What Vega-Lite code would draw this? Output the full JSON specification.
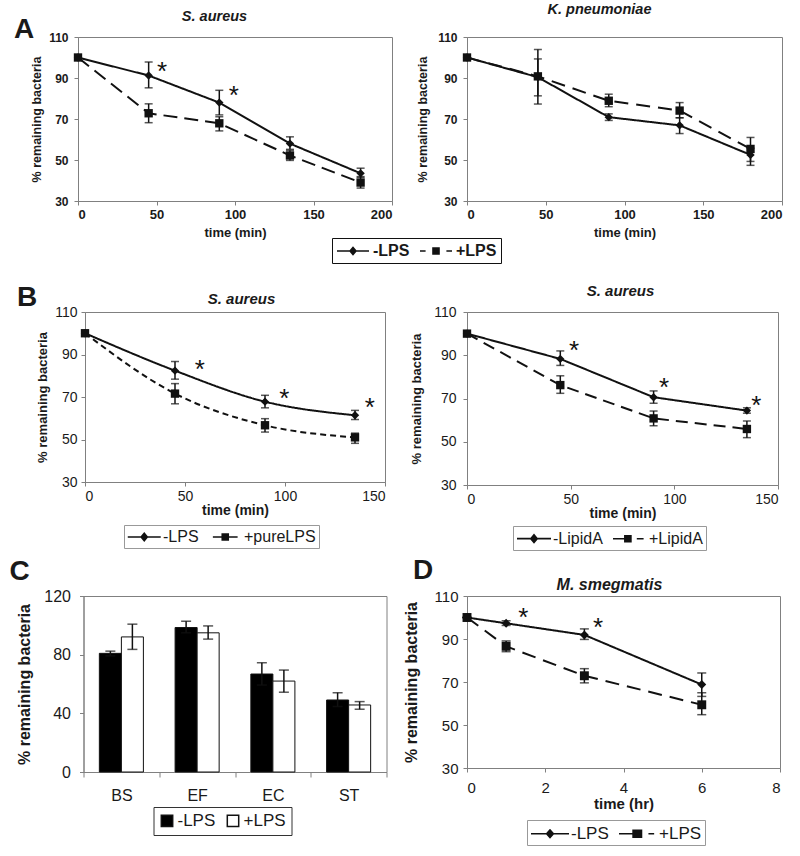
{
"$schema": "https://vega.github.io/schema/vega-lite/v6.json",
"background": "white",
"padding": {"left": 9, "top": 1, "right": 5, "bottom": 5},
"config": {
  "font": "Liberation Sans",
  "view": {"stroke": "#808080", "strokeWidth": 1},
  "axis": {"grid": false, "domainColor": "#808080", "tickColor": "#808080", "tickSize": 4, "labelColor": "#1a1a1a", "titleColor": "#1a1a1a", "titleFontWeight": "bold"},
  "title": {"fontStyle": "italic", "fontWeight": "bold", "color": "#1a1a1a"},
  "legend": {"titleColor": "#1a1a1a", "labelColor": "#1a1a1a"}
},
"columns": 2,
"spacing": {"row": 111, "column": 75},
"bounds": "flush",
"center": true,
"resolve": {"scale": {"shape": "independent", "strokeDash": "independent", "fill": "independent"}, "legend": {"shape": "independent", "fill": "independent"}},
"concat": [
{
  "width": 314, "height": 164,
  "title": {"text": "A", "anchor": "start", "frame": "group", "fontSize": 28, "fontWeight": "bold", "fontStyle": "normal", "baseline": "alphabetic", "offset": 0, "dx": -64, "dy": 58},
  "data": {"values": [
    {"t":0,"v":100,"lo":100,"hi":100,"s":"-LPS"},
    {"t":45,"v":91.2,"lo":85.2,"hi":97.8,"s":"-LPS"},
    {"t":90,"v":78,"lo":72,"hi":84,"s":"-LPS"},
    {"t":135,"v":58,"lo":55.2,"hi":61.3,"s":"-LPS"},
    {"t":180,"v":43.5,"lo":41.5,"hi":46,"s":"-LPS"},
    {"t":0,"v":100,"lo":100,"hi":100,"s":"+LPS"},
    {"t":45,"v":72.8,"lo":68.2,"hi":77.4,"s":"+LPS"},
    {"t":90,"v":67.9,"lo":64.2,"hi":71.1,"s":"+LPS"},
    {"t":135,"v":52.2,"lo":49.8,"hi":54.7,"s":"+LPS"},
    {"t":180,"v":39,"lo":36.3,"hi":41.9,"s":"+LPS"}
  ]},
  "encoding": {
    "x": {"field": "t", "type": "quantitative", "scale": {"domain": [0,200], "nice": false}, "axis": {"values": [0,50,100,150,200], "title": "time (min)", "labelFontSize": 13, "labelFontWeight": "bold", "titleFontSize": 13, "labelPadding": 3, "titlePadding": 5}},
    "y": {"field": "v", "type": "quantitative", "scale": {"domain": [30,110], "nice": false}, "axis": {"values": [30,50,70,90,110], "title": "% remaining bacteria", "labelFontSize": 12, "labelFontWeight": "bold", "titleFontSize": 12.5, "labelPadding": 6, "titlePadding": 5}}
  },
  "resolve": {"axis": {"x": "independent"}},
  "layer": [
    {"resolve": {"scale": {"shape": "independent"}, "legend": {"shape": "independent"}},
     "layer": [
      {"mark": {"type": "line", "color": "#111", "strokeWidth": 2}, "encoding": {"strokeDash": {"field": "s", "type": "nominal", "scale": {"domain": ["-LPS","+LPS"], "range": [[1,0],[14,7]]}, "legend": null}}},
      {"mark": {"type": "errorbar", "color": "#111", "ticks": {"size": 8, "thickness": 1.5}, "rule": {"strokeWidth": 1.5}}, "encoding": {"y": {"field": "lo", "type": "quantitative", "scale": {"domain": [30,110], "nice": false}, "title": "% remaining bacteria"}, "y2": {"field": "hi"}}},
      {"mark": {"type": "point", "filled": true, "color": "#111", "opacity": 1, "size": 70}, "encoding": {"shape": {"field": "s", "type": "nominal", "scale": {"domain": ["-LPS","+LPS"], "range": ["diamond","square"]}, "legend": null}}},
      {"data": {"values": [{"t":53.5,"v":95.7},{"t":99.2,"v":84.3}]}, "mark": {"type": "text", "text": "*", "fontSize": 26, "dy": 6, "color": "#111"}},
      {"transform": [{"filter": "false"}], "mark": {"type": "point", "filled": true, "color": "#111", "opacity": 1}, "encoding": {"shape": {"field": "s", "type": "nominal",
        "scale": {"domain": ["-LPS","+LPS"], "range": ["M-1,-0.1H3V0.1H-1ZM1,-0.6L1.5,0L1,0.6L0.5,0Z", "M-1,-0.1H-0.3V0.1H-1ZM2.3,-0.1H3V0.1H2.3ZM0.525,-0.475H1.475V0.475H0.525Z"]},
        "legend": {"orient": "none", "legendX": 254, "legendY": 201, "direction": "horizontal", "title": null, "strokeColor": "#111", "padding": 4, "labelFontSize": 16, "labelFontWeight": "bold", "symbolSize": 256, "symbolOpacity": 1, "columnPadding": 7, "labelOffset": 19}}}}
    ]},
    {"mark": {"type": "point", "opacity": 0}, "encoding": {"x": {"field": "t", "type": "quantitative", "scale": {"domain": [0,200], "nice": false}, "axis": {"orient": "top", "title": "S. aureus", "labels": false, "ticks": false, "domain": false, "titleFontSize": 14.5, "titleFontStyle": "italic", "titleFontWeight": "bold", "titlePadding": 14, "titleX": 136}}}}
  ]
},
{
  "width": 315, "height": 164,
  "title": {"text": "K. pneumoniae", "fontSize": 14.5, "offset": 14, "dx": -25},
  "data": {"values": [
    {"t":0,"v":100,"lo":100,"hi":100,"s":"-LPS"},
    {"t":45,"v":90.4,"lo":81.3,"hi":99.3,"s":"-LPS"},
    {"t":90,"v":70.9,"lo":69.3,"hi":72.5,"s":"-LPS"},
    {"t":135,"v":66.9,"lo":62.9,"hi":70.6,"s":"-LPS"},
    {"t":180,"v":52.5,"lo":47.4,"hi":55.7,"s":"-LPS"},
    {"t":0,"v":100,"lo":100,"hi":100,"s":"+LPS"},
    {"t":45,"v":90.8,"lo":77.3,"hi":103.9,"s":"+LPS"},
    {"t":90,"v":78.9,"lo":76,"hi":82.1,"s":"+LPS"},
    {"t":135,"v":74.1,"lo":70.6,"hi":78,"s":"+LPS"},
    {"t":180,"v":55.4,"lo":49.3,"hi":61,"s":"+LPS"}
  ]},
  "encoding": {
    "x": {"field": "t", "type": "quantitative", "scale": {"domain": [0,200], "nice": false}, "axis": {"values": [0,50,100,150,200], "title": "time (min)", "labelFontSize": 13, "labelFontWeight": "bold", "titleFontSize": 13, "labelPadding": 3, "titlePadding": 5}},
    "y": {"field": "v", "type": "quantitative", "scale": {"domain": [30,110], "nice": false}, "axis": {"values": [30,50,70,90,110], "title": "% remaining bacteria", "labelFontSize": 12, "labelFontWeight": "bold", "titleFontSize": 12.5, "labelPadding": 6, "titlePadding": 8}}
  },
  "layer": [
    {"mark": {"type": "line", "color": "#111", "strokeWidth": 2}, "encoding": {"strokeDash": {"field": "s", "type": "nominal", "scale": {"domain": ["-LPS","+LPS"], "range": [[1,0],[14,8]]}, "legend": null}}},
    {"mark": {"type": "errorbar", "color": "#111", "ticks": {"size": 8, "thickness": 1.5}, "rule": {"strokeWidth": 1.5}}, "encoding": {"y": {"field": "lo", "type": "quantitative", "scale": {"domain": [30,110], "nice": false}, "title": "% remaining bacteria"}, "y2": {"field": "hi"}}},
    {"mark": {"type": "point", "filled": true, "color": "#111", "opacity": 1, "size": 70}, "encoding": {"shape": {"field": "s", "type": "nominal", "scale": {"domain": ["-LPS","+LPS"], "range": ["diamond","square"]}, "legend": null}}}
  ]
},
{
  "width": 300, "height": 170,
  "title": {"text": "B", "anchor": "start", "frame": "group", "fontSize": 28, "fontWeight": "bold", "fontStyle": "normal", "baseline": "alphabetic", "offset": 0, "dx": -68, "dy": 43},
  "data": {"values": [
    {"t":0,"v":100,"lo":100,"hi":100,"s":"-LPS"},
    {"t":45,"v":82.4,"lo":78.4,"hi":86.7,"s":"-LPS"},
    {"t":90,"v":67.8,"lo":64.9,"hi":70.8,"s":"-LPS"},
    {"t":135,"v":61.4,"lo":59.4,"hi":63.7,"s":"-LPS"},
    {"t":0,"v":100,"lo":100,"hi":100,"s":"+pureLPS"},
    {"t":45,"v":71.6,"lo":66.8,"hi":76.3,"s":"+pureLPS"},
    {"t":90,"v":56.7,"lo":53.5,"hi":59.8,"s":"+pureLPS"},
    {"t":135,"v":51,"lo":48.2,"hi":53,"s":"+pureLPS"}
  ]},
  "encoding": {
    "x": {"field": "t", "type": "quantitative", "scale": {"domain": [0,150], "nice": false}, "axis": {"values": [0,50,100,150], "title": "time (min)", "labelFontSize": 14, "titleFontSize": 14, "labelPadding": 3, "titlePadding": 0}},
    "y": {"field": "v", "type": "quantitative", "scale": {"domain": [30,110], "nice": false}, "axis": {"values": [30,50,70,90,110], "title": "% remaining bacteria", "labelFontSize": 14, "titleFontSize": 13, "labelPadding": 4, "titlePadding": 5}}
  },
  "resolve": {"axis": {"x": "independent"}},
  "layer": [
    {"resolve": {"scale": {"shape": "independent"}, "legend": {"shape": "independent"}},
     "layer": [
      {"mark": {"type": "line", "color": "#111", "strokeWidth": 2, "interpolate": "monotone"}, "encoding": {"strokeDash": {"field": "s", "type": "nominal", "scale": {"domain": ["-LPS","+pureLPS"], "range": [[1,0],[6,4]]}, "legend": null}}},
      {"mark": {"type": "errorbar", "color": "#111", "ticks": {"size": 8, "thickness": 1.5}, "rule": {"strokeWidth": 1.5}}, "encoding": {"y": {"field": "lo", "type": "quantitative", "scale": {"domain": [30,110], "nice": false}, "title": "% remaining bacteria"}, "y2": {"field": "hi"}}},
      {"mark": {"type": "point", "filled": true, "color": "#111", "opacity": 1, "size": 70}, "encoding": {"shape": {"field": "s", "type": "nominal", "scale": {"domain": ["-LPS","+pureLPS"], "range": ["diamond","square"]}, "legend": null}}},
      {"data": {"values": [{"t":57.4,"v":85.6},{"t":99.7,"v":72},{"t":142.4,"v":67.6}]}, "mark": {"type": "text", "text": "*", "fontSize": 26, "dy": 6, "color": "#111"}},
      {"transform": [{"filter": "false"}], "mark": {"type": "point", "filled": true, "color": "#111", "opacity": 1}, "encoding": {"shape": {"field": "s", "type": "nominal",
        "scale": {"domain": ["-LPS","+pureLPS"], "range": ["M-1,-0.1H3V0.1H-1ZM1,-0.6L1.5,0L1,0.6L0.5,0Z", "M-0.5,-0.1H2.5V0.1H-0.5ZM0.54,-0.46H1.46V0.46H0.54Z"]},
        "legend": {"orient": "none", "legendX": 39, "legendY": 213, "direction": "horizontal", "title": null, "strokeColor": "#999", "padding": 3, "labelFontSize": 16, "symbolSize": 272, "symbolOpacity": 1, "columnPadding": 9, "labelOffset": 18}}}}
    ]},
    {"mark": {"type": "point", "opacity": 0}, "encoding": {"x": {"field": "t", "type": "quantitative", "scale": {"domain": [0,150], "nice": false}, "axis": {"orient": "top", "title": "S. aureus", "labels": false, "ticks": false, "domain": false, "titleFontSize": 15, "titleFontStyle": "italic", "titleFontWeight": "bold", "titlePadding": 6, "titleX": 156}}}}
  ]
},
{
  "width": 311, "height": 173,
  "title": {"text": "S. aureus", "fontSize": 15, "offset": 6, "dx": -2},
  "data": {"values": [
    {"t":0,"v":100,"lo":100,"hi":100,"s":"-LipidA"},
    {"t":45,"v":88.3,"lo":85.3,"hi":92,"s":"-LipidA"},
    {"t":90,"v":70.6,"lo":67.8,"hi":73.5,"s":"-LipidA"},
    {"t":135,"v":64.4,"lo":63.2,"hi":65.7,"s":"-LipidA"},
    {"t":0,"v":100,"lo":100,"hi":100,"s":"+LipidA"},
    {"t":45,"v":76.2,"lo":72.4,"hi":80.5,"s":"+LipidA"},
    {"t":90,"v":60.8,"lo":57.4,"hi":64.2,"s":"+LipidA"},
    {"t":135,"v":55.9,"lo":51.9,"hi":59.6,"s":"+LipidA"}
  ]},
  "encoding": {
    "x": {"field": "t", "type": "quantitative", "scale": {"domain": [0,150], "nice": false}, "axis": {"values": [0,50,100,150], "title": "time (min)", "labelFontSize": 14, "titleFontSize": 14, "labelPadding": 3, "titlePadding": 0}},
    "y": {"field": "v", "type": "quantitative", "scale": {"domain": [30,110], "nice": false}, "axis": {"values": [30,50,70,90,110], "title": "% remaining bacteria", "labelFontSize": 14, "titleFontSize": 13, "labelPadding": 7, "titlePadding": 10}}
  },
  "resolve": {"scale": {"shape": "independent"}, "legend": {"shape": "independent"}},
  "layer": [
    {"mark": {"type": "line", "color": "#111", "strokeWidth": 2}, "encoding": {"strokeDash": {"field": "s", "type": "nominal", "scale": {"domain": ["-LipidA","+LipidA"], "range": [[1,0],[12,7]]}, "legend": null}}},
    {"mark": {"type": "errorbar", "color": "#111", "ticks": {"size": 8, "thickness": 1.5}, "rule": {"strokeWidth": 1.5}}, "encoding": {"y": {"field": "lo", "type": "quantitative", "scale": {"domain": [30,110], "nice": false}, "title": "% remaining bacteria"}, "y2": {"field": "hi"}}},
    {"mark": {"type": "point", "filled": true, "color": "#111", "opacity": 1, "size": 70}, "encoding": {"shape": {"field": "s", "type": "nominal", "scale": {"domain": ["-LipidA","+LipidA"], "range": ["diamond","square"]}, "legend": null}}},
    {"data": {"values": [{"t":51.6,"v":94.7},{"t":95,"v":77.8},{"t":139.5,"v":69.3}]}, "mark": {"type": "text", "text": "*", "fontSize": 26, "dy": 6, "color": "#111"}},
    {"transform": [{"filter": "false"}], "mark": {"type": "point", "filled": true, "color": "#111", "opacity": 1}, "encoding": {"shape": {"field": "s", "type": "nominal",
      "scale": {"domain": ["-LipidA","+LipidA"], "range": ["M-1,-0.1H3V0.1H-1ZM1,-0.6L1.5,0L1,0.6L0.5,0Z", "M-1,-0.1H0.5V0.1H-1ZM0.3,-0.45H1.2V0.45H0.3ZM1.8,-0.1H2.6V0.1H1.8Z"]},
      "legend": {"orient": "none", "legendX": 46, "legendY": 214, "direction": "horizontal", "title": null, "strokeColor": "#999", "padding": 3, "labelFontSize": 16, "symbolSize": 289, "symbolOpacity": 1, "columnPadding": 7, "labelOffset": 18}}}}
  ]
},
{
  "width": 303, "height": 176,
  "title": {"text": "C", "anchor": "start", "frame": "group", "fontSize": 28, "fontWeight": "bold", "fontStyle": "normal", "baseline": "alphabetic", "offset": 0, "dx": -74, "dy": 20},
  "data": {"values": [
    {"c":"BS","s":"-LPS","v":80.9,"lo":79.2,"hi":82.4},
    {"c":"BS","s":"+LPS","v":92.1,"lo":83.6,"hi":100.8},
    {"c":"EF","s":"-LPS","v":98.5,"lo":94.9,"hi":102.8},
    {"c":"EF","s":"+LPS","v":94.9,"lo":90.6,"hi":99.6},
    {"c":"EC","s":"-LPS","v":66.8,"lo":59.3,"hi":74.5},
    {"c":"EC","s":"+LPS","v":62,"lo":54.4,"hi":69.5},
    {"c":"ST","s":"-LPS","v":49.1,"lo":44.6,"hi":54.1},
    {"c":"ST","s":"+LPS","v":45.7,"lo":42.8,"hi":48}
  ]},
  "encoding": {
    "x": {"field": "c", "type": "nominal", "sort": ["BS","EF","EC","ST"], "scale": {"paddingInner": 0, "paddingOuter": 0}, "axis": {"title": null, "labelAngle": 0, "labelFontSize": 16, "labelPadding": 10, "tickBand": "extent", "tickSize": 5}},
    "xOffset": {"field": "s", "type": "nominal", "sort": ["-LPS","+LPS"], "scale": {"paddingInner": 0, "paddingOuter": 0.72}}
  },
  "layer": [
    {"mark": {"type": "bar", "stroke": "#111", "strokeWidth": 1}, "encoding": {
      "y": {"field": "v", "type": "quantitative", "scale": {"domain": [0,120], "nice": false}, "axis": {"values": [0,20,40,60,80,100,120], "title": "% remaining bacteria", "labelFontSize": 16, "titleFontSize": 16, "labelPadding": 9, "titlePadding": 11}},
      "fill": {"field": "s", "type": "nominal", "scale": {"domain": ["-LPS","+LPS"], "range": ["#000000","#ffffff"]},
        "legend": {"orient": "none", "legendX": 70, "legendY": 211, "direction": "horizontal", "title": null, "strokeColor": "#333", "padding": 5, "labelFontSize": 17, "symbolType": "square", "symbolSize": 130, "columnPadding": 8, "labelOffset": 2,
          "encode": {"symbols": {"update": {"stroke": {"value": "#111"}, "strokeWidth": {"value": 1}}}}}}
    }},
    {"mark": {"type": "rule", "color": "#111", "strokeWidth": 1.5}, "encoding": {"y": {"field": "lo", "type": "quantitative"}, "y2": {"field": "hi"}}},
    {"mark": {"type": "tick", "color": "#111", "thickness": 1.5, "size": 10}, "encoding": {"y": {"field": "lo", "type": "quantitative"}}},
    {"mark": {"type": "tick", "color": "#111", "thickness": 1.5, "size": 10}, "encoding": {"y": {"field": "hi", "type": "quantitative"}}}
  ]
},
{
  "width": 313, "height": 172,
  "title": {"text": "D", "anchor": "start", "frame": "group", "fontSize": 28, "fontWeight": "bold", "fontStyle": "normal", "baseline": "alphabetic", "offset": 0, "dx": -54, "dy": 31},
  "data": {"values": [
    {"t":0,"v":100,"lo":100,"hi":100,"s":"-LPS"},
    {"t":1,"v":97.3,"lo":96.3,"hi":98.5,"s":"-LPS"},
    {"t":3,"v":91.9,"lo":89.8,"hi":94.7,"s":"-LPS"},
    {"t":6,"v":68.8,"lo":63.3,"hi":74.2,"s":"-LPS"},
    {"t":0,"v":100,"lo":100,"hi":100,"s":"+LPS"},
    {"t":1,"v":86.6,"lo":84.1,"hi":89.1,"s":"+LPS"},
    {"t":3,"v":72.9,"lo":69.6,"hi":76.2,"s":"+LPS"},
    {"t":6,"v":59.4,"lo":54.8,"hi":65,"s":"+LPS"}
  ]},
  "encoding": {
    "x": {"field": "t", "type": "quantitative", "scale": {"domain": [0,8], "nice": false}, "axis": {"values": [0,2,4,6,8], "title": "time (hr)", "labelFontSize": 15, "titleFontSize": 15, "labelPadding": 8, "titlePadding": 1}},
    "y": {"field": "v", "type": "quantitative", "scale": {"domain": [30,110], "nice": false}, "axis": {"values": [30,50,70,90,110], "title": "% remaining bacteria", "labelFontSize": 15, "titleFontSize": 16, "labelPadding": 5, "titlePadding": 15}}
  },
  "resolve": {"axis": {"x": "independent"}},
  "layer": [
    {"resolve": {"scale": {"shape": "independent"}, "legend": {"shape": "independent"}},
     "layer": [
      {"mark": {"type": "line", "color": "#111", "strokeWidth": 2}, "encoding": {"strokeDash": {"field": "s", "type": "nominal", "scale": {"domain": ["-LPS","+LPS"], "range": [[1,0],[14,8]]}, "legend": null}}},
      {"mark": {"type": "errorbar", "color": "#111", "ticks": {"size": 9, "thickness": 1.5}, "rule": {"strokeWidth": 1.5}}, "encoding": {"y": {"field": "lo", "type": "quantitative", "scale": {"domain": [30,110], "nice": false}, "title": "% remaining bacteria"}, "y2": {"field": "hi"}}},
      {"mark": {"type": "point", "filled": true, "color": "#111", "opacity": 1, "size": 80}, "encoding": {"shape": {"field": "s", "type": "nominal", "scale": {"domain": ["-LPS","+LPS"], "range": ["diamond","square"]}, "legend": null}}},
      {"data": {"values": [{"t":1.44,"v":102.6},{"t":3.35,"v":98}]}, "mark": {"type": "text", "text": "*", "fontSize": 26, "dy": 6, "color": "#111"}},
      {"transform": [{"filter": "false"}], "mark": {"type": "point", "filled": true, "color": "#111", "opacity": 1}, "encoding": {"shape": {"field": "s", "type": "nominal",
        "scale": {"domain": ["-LPS","+LPS"], "range": ["M-1,-0.09H3V0.09H-1ZM1,-0.53L1.47,0L1,0.53L0.53,0Z", "M-1,-0.09H0.5V0.09H-1ZM0.4,-0.45H1.45V0.45H0.4ZM2.1,-0.09H2.7V0.09H2.1Z"]},
        "legend": {"orient": "none", "legendX": 60, "legendY": 224, "direction": "horizontal", "title": null, "strokeColor": "#999", "padding": 3, "labelFontSize": 17, "symbolSize": 361, "symbolOpacity": 1, "columnPadding": 7, "labelOffset": 20}}}}
    ]},
    {"mark": {"type": "point", "opacity": 0}, "encoding": {"x": {"field": "t", "type": "quantitative", "scale": {"domain": [0,8], "nice": false}, "axis": {"orient": "top", "title": "M. smegmatis", "labels": false, "ticks": false, "domain": false, "titleFontSize": 16, "titleFontStyle": "italic", "titleFontWeight": "bold", "titlePadding": 4, "titleX": 142}}}}
  ]
}
]
}
